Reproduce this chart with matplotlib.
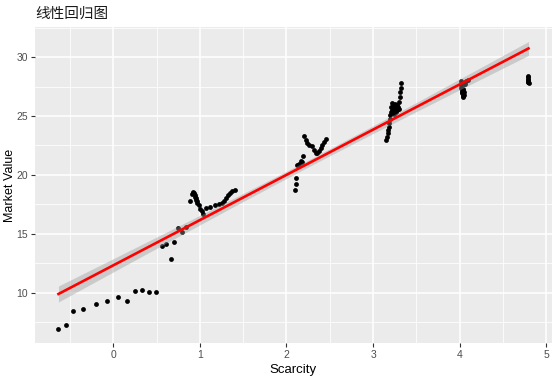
import numpy as np
import matplotlib
matplotlib.use("Agg")
import matplotlib.pyplot as plt

# ---- data ----
seg_a_x = [-0.633, -0.548, -0.467, -0.347, -0.205, -0.069, 0.05, 0.158, 0.255, 0.336, 0.417, 0.49]
seg_a_y = [6.94, 7.28, 8.42, 8.58, 9.00, 9.33, 9.67, 9.33, 10.11, 10.22, 10.03, 10.08]

seg_b_x = [0.563, 0.613, 0.663, 0.70, 0.752, 0.799, 0.84]
seg_b_y = [13.94, 14.11, 12.89, 14.28, 15.53, 15.17, 15.61]

clu1_x = [0.884, 0.918, 0.94, 0.955, 0.972, 0.99, 1.005, 1.02, 1.036, 1.07, 1.12, 1.17,
          1.22, 1.25, 1.28, 1.30, 1.33, 1.35, 1.375, 1.40,
          0.905, 0.925, 0.93, 0.945, 0.95, 0.962]
clu1_y = [17.78, 18.58, 18.30, 17.85, 17.62, 17.40, 17.10, 16.90, 16.72, 17.20, 17.28, 17.45,
          17.55, 17.60, 17.75, 18.00, 18.25, 18.50, 18.65, 18.72,
          18.35, 18.50, 18.42, 18.10, 18.00, 17.75]

clu2_x = [2.098, 2.106, 2.115, 2.126, 2.14, 2.164, 2.184, 2.195, 2.203, 2.222, 2.242, 2.265,
          2.292, 2.318, 2.338, 2.357, 2.376, 2.396, 2.415, 2.434, 2.454]
clu2_y = [18.75, 19.22, 19.72, 20.80, 20.94, 21.17, 21.08, 21.58, 23.33, 22.97, 22.69, 22.56,
          22.42, 22.14, 21.86, 21.86, 22.06, 22.28, 22.50, 22.78, 23.06]

clu3_x = [3.148, 3.16, 3.168, 3.175, 3.18, 3.186, 3.19, 3.198, 3.206, 3.206, 3.214, 3.22,
          3.23, 3.238, 3.245, 3.25, 3.26, 3.268, 3.275, 3.282, 3.29, 3.30, 3.305, 3.31,
          3.314, 3.318, 3.32]
clu3_y = [22.97, 23.25, 23.53, 23.81, 24.08, 24.44, 24.78, 25.06, 25.33, 25.75, 26.11, 25.50,
          25.89, 25.20, 25.61, 26.00, 25.33, 25.80, 25.47, 25.90, 25.75, 26.17, 25.60, 26.58,
          27.00, 27.42, 27.78]

clu4_x = [4.016, 4.036, 4.047, 4.074, 4.10, 4.016, 4.028, 4.036, 4.043, 4.02, 4.04, 4.05, 4.06,
          4.032, 4.038, 4.041, 4.045, 4.03]
clu4_y = [27.97, 27.83, 27.69, 27.97, 28.06, 27.42, 27.14, 26.86, 26.58, 27.60, 27.30, 27.00, 27.75,
          26.95, 26.70, 27.20, 26.80, 27.05]

clu5_x = [4.79, 4.79, 4.79, 4.795, 4.792, 4.788, 4.794]
clu5_y = [28.39, 28.17, 27.92, 27.80, 28.05, 28.30, 27.88]

x_ticks = [0, 1, 2, 3, 4, 5]
y_ticks = [10, 15, 20, 25, 30]
title = "线性回归图"
x_label = "Scarcity"
y_label = "Market Value"

# ---- assemble ----
x = np.array(seg_a_x + seg_b_x + clu1_x + clu2_x + clu3_x + clu4_x + clu5_x)
y = np.array(seg_a_y + seg_b_y + clu1_y + clu2_y + clu3_y + clu4_y + clu5_y)

# linear fit with 95% confidence band (like geom_smooth(method="lm"))
n = len(x)
b1, b0 = np.polyfit(x, y, 1)
resid = y - (b0 + b1 * x)
s = np.sqrt(np.sum(resid ** 2) / (n - 2))
xg = np.linspace(x.min(), x.max(), 80)
yg = b0 + b1 * xg
se = s * np.sqrt(1.0 / n + (xg - x.mean()) ** 2 / np.sum((x - x.mean()) ** 2))
tq = 1.98
lo, hi = yg - tq * se, yg + tq * se

plt.rcParams['font.family'] = ['Liberation Sans', 'DejaVu Sans']

fig = plt.figure(figsize=(5.55, 3.82), dpi=100)
fig.patch.set_facecolor('white')
ax = fig.add_axes([0.063, 0.102, 0.9316, 0.827])
ax.set_facecolor('#EBEBEB')

# limits with 5% expansion (computed from data and band)
xr = x.max() - x.min()
xlo, xhi = x.min() - 0.05 * xr, x.max() + 0.05 * xr
ymin = min(y.min(), lo.min()); ymax = max(y.max(), hi.max())
yr = ymax - ymin
ylo, yhi = ymin - 0.05 * yr, ymax + 0.05 * yr

# grid
ax.set_xticks(x_ticks)
ax.set_yticks(y_ticks)
xminor = [t + 0.5 for t in [-1] + x_ticks]
yminor = [t - 2.5 for t in y_ticks] + [y_ticks[-1] + 2.5]
ax.set_xticks([v for v in xminor if xlo < v < xhi], minor=True)
ax.set_yticks([v for v in yminor if ylo < v < yhi], minor=True)
ax.set_xlim(xlo, xhi)
ax.set_ylim(ylo, yhi)
ax.grid(which='major', color='white', linewidth=1.1)
ax.grid(which='minor', color='white', linewidth=0.55)
ax.set_axisbelow(True)
for sp in ax.spines.values():
    sp.set_visible(False)
ax.tick_params(which='major', length=3, width=0.8, color='#333333',
               labelcolor='#4D4D4D', labelsize=7.5, pad=2)
ax.tick_params(which='minor', length=0)

ax.scatter(x, y, s=12, color='black', linewidths=0, zorder=3)
ax.fill_between(xg, lo, hi, color='#999999', alpha=0.4, linewidth=0, zorder=4)
ax.plot(xg, yg, color='red', linewidth=1.9, zorder=5)

ax.set_xlabel(x_label, fontsize=9.5, color='black', labelpad=3)
ax.set_ylabel(y_label, fontsize=9, color='black', labelpad=0.3)

fig.text(0.063, 0.965, title, fontsize=10.5, ha='left', va='center',
         family=['Noto Sans CJK SC', 'DejaVu Sans'], color='#1a1a1a')

fig.savefig('out.png', dpi=100)
